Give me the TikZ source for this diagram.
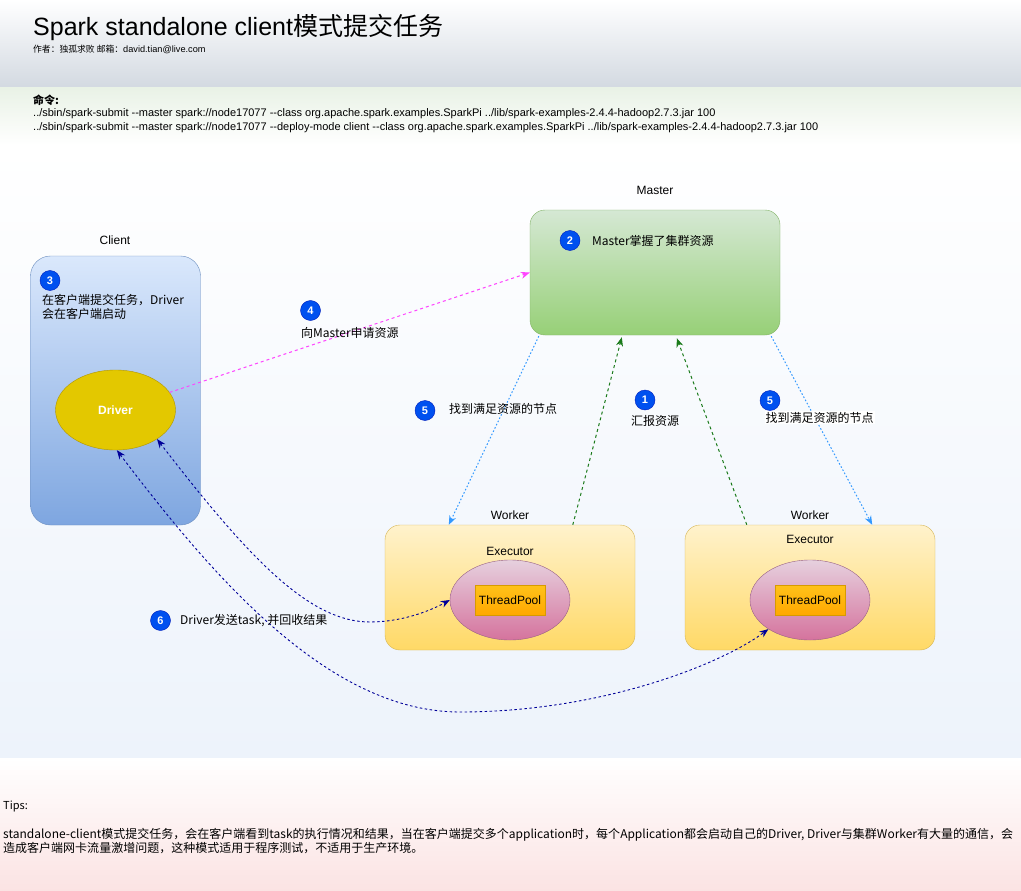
\documentclass[tikz,border=0pt]{standalone}
\usepackage{fontspec}
\usepackage{graphicx}
\setmainfont{Liberation Sans}
\newfontfamily\cjk{Noto Sans CJK SC}
\usetikzlibrary{arrows.meta,calc,shapes.geometric}
\definecolor{badgefill}{HTML}{0050EF}
\definecolor{badgedraw}{HTML}{001DBC}
\definecolor{hdrbot}{HTML}{D3D9E1}
\definecolor{cmdtop}{HTML}{E9F2E6}
\definecolor{mainbot}{HTML}{EDF3FB}
\definecolor{tipbot}{HTML}{FBE3E3}
\definecolor{mtop}{HTML}{D5E8D4}
\definecolor{mbot}{HTML}{97D077}
\definecolor{mdraw}{HTML}{82B366}
\definecolor{ctop}{HTML}{DAE8FC}
\definecolor{cbot}{HTML}{7EA6E0}
\definecolor{cdraw}{HTML}{6C8EBF}
\definecolor{wtop}{HTML}{FFF2CC}
\definecolor{wbot}{HTML}{FFD966}
\definecolor{wdraw}{HTML}{D6B656}
\definecolor{etop}{HTML}{E6D0DE}
\definecolor{ebot}{HTML}{D5739D}
\definecolor{edraw}{HTML}{996185}
\definecolor{tptop}{HTML}{FFC21A}
\definecolor{tpbot}{HTML}{FFA800}
\definecolor{tpdraw}{HTML}{D79B00}
\definecolor{drvfill}{HTML}{E3C800}
\definecolor{drvdraw}{HTML}{B09500}
\definecolor{reqpink}{HTML}{FF44FF}
\definecolor{findblue}{HTML}{3399FF}
\definecolor{repgreen}{HTML}{1A7A1A}
\definecolor{taskblue}{HTML}{000099}
\newlength\tipw
\newcommand\tiplineone{standalone-client模式提交任务，会在客户端看到task的执行情况和结果，当在客户端提交多个application时，每个Application都会启动自己的Driver, Driver与集群Worker有大量的通信，会}
\newcommand\tiplinetwo{造成客户端网卡流量激增问题，这种模式适用于程序测试，不适用于生产环境。}
\tikzset{
  lbl/.style={inner sep=0pt, font=\fontsize{12}{14}\selectfont},
  zh/.style={inner sep=0pt, font=\cjk\fontsize{12}{14}\selectfont},
  badge/.style={circle, fill=badgefill, draw=badgedraw, minimum size=20pt, inner sep=0pt, text=white, font=\fontsize{11}{12}\selectfont\bfseries},
  masterbox/.style={rounded corners=15pt, top color=mtop, bottom color=mbot, draw=mdraw, minimum width=250pt, minimum height=125pt},
  clientbox/.style={rounded corners=20pt, top color=ctop, bottom color=cbot, draw=cdraw, minimum width=170pt, minimum height=269pt},
  workerbox/.style={rounded corners=15pt, top color=wtop, bottom color=wbot, draw=wdraw, minimum width=250pt, minimum height=125pt},
  execell/.style={ellipse, top color=etop, bottom color=ebot, draw=edraw, minimum width=120pt, minimum height=80pt},
  tpbox/.style={top color=tptop, bottom color=tpbot, draw=tpdraw, minimum width=70pt, minimum height=30pt, inner sep=0pt, font=\fontsize{12}{14}\selectfont},
  drvell/.style={ellipse, fill=drvfill, draw=drvdraw, minimum width=120pt, minimum height=80pt, text=white, font=\fontsize{12}{14}\selectfont\bfseries},
  req/.style={draw=reqpink, line width=1pt, dash pattern=on 3pt off 3pt, -{Stealth[length=9pt,width=7pt]}, reqpink},
  find/.style={draw=findblue, line width=1pt, dash pattern=on 1.6pt off 2pt, -{Stealth[length=9pt,width=7pt]}, findblue},
  rep/.style={draw=repgreen, line width=1pt, dash pattern=on 3pt off 3pt, -{Stealth[length=9pt,width=7pt]}, repgreen},
  task/.style={draw=taskblue, line width=0.9pt, dash pattern=on 2.5pt off 2.5pt, {Stealth[length=9pt,width=7pt]}-{Stealth[length=9pt,width=7pt]}, taskblue},
}
\begin{document}
\settowidth\tipw{\cjk\fontsize{11}{13}\selectfont\tiplineone}%
\pgfmathsetmacro\tipscale{1010/\tipw}%
\begin{tikzpicture}[x=1pt,y=-1pt]
\useasboundingbox (0,0) rectangle (1021,891);
% backgrounds
\fill[top color=white, bottom color=hdrbot] (0,0) rectangle (1021,88);
\fill[top color=cmdtop, bottom color=white] (0,88) rectangle (1021,145);
\fill[top color=white, bottom color=mainbot] (0,145) rectangle (1021,758);
\fill[top color=white, bottom color=tipbot] (0,758) rectangle (1021,891);
% header
\node[anchor=base west, inner sep=0pt, font=\fontsize{25}{29}\selectfont] (title) at (33,36) {Spark standalone client{\cjk 模式提交任务}};
\node[anchor=base west, inner sep=0pt] (author) at (33,53) {{\cjk\fontsize{8.8}{10}\selectfont 作者：独孤求败 邮箱：}{\fontsize{9.2}{10}\selectfont david.tian@live.com}};
\node[anchor=base west, inner sep=0pt, font=\cjk\fontsize{11}{13}\selectfont\bfseries] (cmdhead) at (33,104) {命令:};
\node[anchor=base west, inner sep=0pt, font=\fontsize{11}{13}\selectfont] (cmd1) at (33,117) {../sbin/spark-submit -{}-master spark://node17077 -{}-class org.apache.spark.examples.SparkPi ../lib/spark-examples-2.4.4-hadoop2.7.3.jar 100};
\node[anchor=base west, inner sep=0pt, font=\fontsize{11}{13}\selectfont] (cmd2) at (33,130) {../sbin/spark-submit -{}-master spark://node17077 -{}-deploy-mode client -{}-class org.apache.spark.examples.SparkPi ../lib/spark-examples-2.4.4-hadoop2.7.3.jar 100};
% master
\node[lbl] (masterlbl) at (655,190.5) {Master};
\node[masterbox] (master) at (655,272.5) {};
\node[badge] (b2) at (570,240.5) {2};
\node[zh, anchor=west] (mtext) at (592,240.5) {Master掌握了集群资源};
% client
\node[lbl] (clientlbl) at (115,240.5) {Client};
\node[clientbox] (client) at (115.5,390.5) {};
\node[badge] (b3) at (50,280.5) {3};
\node[zh, anchor=base west, align=left] (ctext1) at (42,304) {在客户端提交任务，Driver};
\node[zh, anchor=base west, align=left] (ctext2) at (42,318) {会在客户端启动};
\node[drvell] (drv) at (115.5,410) {Driver};
% workers
\node[lbl] (w1lbl) at (510,515.5) {Worker};
\node[workerbox] (w1) at (510,587.5) {};
\node[lbl] (ex1lbl) at (510,551) {Executor};
\node[execell] (ex1) at (510,600) {};
\node[tpbox] (tp1) at (510,600) {ThreadPool};
\node[lbl] (w2lbl) at (810,515.5) {Worker};
\node[workerbox] (w2) at (810,587.5) {};
\node[lbl] (ex2lbl) at (810,539) {Executor};
\node[execell] (ex2) at (810,600) {};
\node[tpbox] (tp2) at (810,600) {ThreadPool};
% connectors
\draw[req] (drv.18) -- (master.west);
\draw[find] ($(master.south west)+(9,1)$) -- ($(w1.north west)+(64,0)$);
\draw[rep] ($(w1.north west)+(188,0)$) -- ($(master.south west)+(92,2)$);
\draw[rep] ($(w2.north west)+(62,0)$) -- ($(master.south west)+(147,3)$);
\draw[find] ($(master.south east)+(-9,1)$) -- ($(w2.north east)+(-63,0)$);
\draw[task] (drv.-35) .. controls (250,560) and (310,622) .. (370,622) .. controls (400,622) and (428,612) .. (ex1.180);
\draw[task] (drv.-88) .. controls (215,580) and (330,712) .. (460,712) .. controls (600,712) and (720,665) .. (ex2.-145);
% step labels
\node[badge] (b4) at (310.5,310.5) {4};
\node[zh, anchor=west] (t4) at (301,332.5) {向Master申请资源};
\node[badge] (b5a) at (425,410.5) {5};
\node[zh, anchor=west] (t5a) at (449,408.5) {找到满足资源的节点};
\node[badge] (b1) at (645,400) {1};
\node[zh] (t1) at (655,421) {汇报资源};
\node[badge] (b5b) at (770,400.5) {5};
\node[zh, fill=white, inner sep=1pt] (t5b) at (819.5,417.5) {找到满足资源的节点};
\node[badge] (b6) at (160.5,620.5) {6};
\node[zh, anchor=west] (t6) at (180,621) {Driver发送task, 并回收结果};
% tips
\node[anchor=base west, inner sep=0pt, font=\cjk\fontsize{11}{13}\selectfont] (tipshead) at (3,809) {Tips:};
\node[anchor=base west, inner sep=0pt] (tip1) at (3,838) {\scalebox{\tipscale}{\cjk\fontsize{11}{13}\selectfont\tiplineone}};
\node[anchor=base west, inner sep=0pt] (tip2) at (3,852) {\scalebox{\tipscale}{\cjk\fontsize{11}{13}\selectfont\tiplinetwo}};
\end{tikzpicture}
\end{document}
